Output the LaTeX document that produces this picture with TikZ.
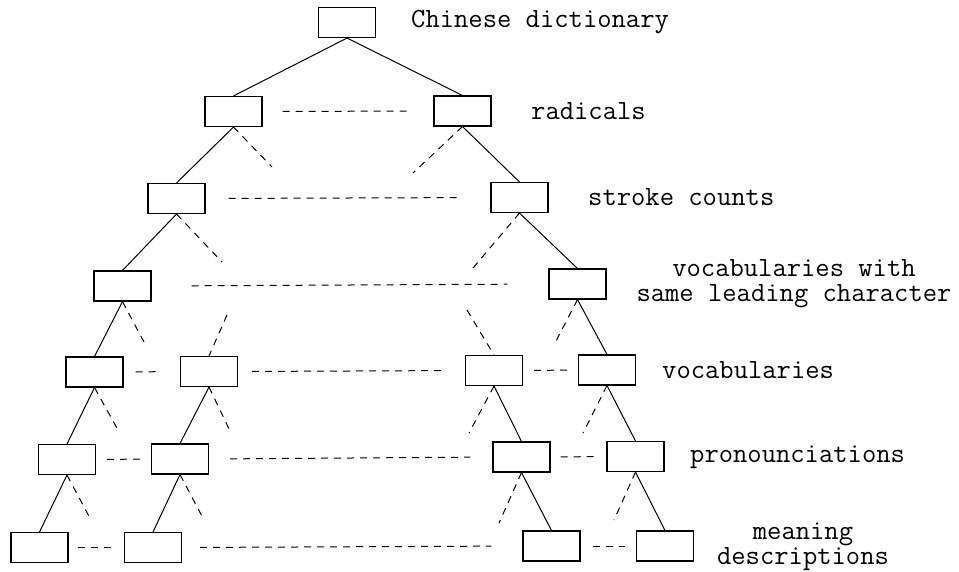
\documentclass[tikz,border=0pt]{standalone}
\begin{document}
\begin{tikzpicture}[x=1pt,y=-1pt,
  box/.style={draw,line width=1.1pt,minimum width=57pt,minimum height=30pt,inner sep=0pt},
  edge/.style={line width=1pt},
  dline/.style={line width=1pt,dash pattern=on 7pt off 6pt},
  lbl/.style={font=\ttfamily\fontsize{27.8}{25}\selectfont,inner sep=0pt}]
\useasboundingbox (0,0) rectangle (959,571);
% boxes
\node[box] (r)  at (347,22.5) {};
\node[box] (aL) at (233.5,111.5) {};
\node[box] (aR) at (462.5,111) {};
\node[box] (bL) at (176.5,198.5) {};
\node[box] (bR) at (519.5,197.5) {};
\node[box] (cL) at (122.5,286) {};
\node[box] (cR) at (577.5,284) {};
\node[box] (dA) at (94.5,372) {};
\node[box] (dB) at (209,371.5) {};
\node[box] (dC) at (494,370.5) {};
\node[box] (dD) at (607,370) {};
\node[box] (eA) at (67,459.5) {};
\node[box] (eB) at (180,459) {};
\node[box] (eC) at (521.5,457) {};
\node[box] (eD) at (635.5,456.5) {};
\node[box] (fA) at (39.5,547.5) {};
\node[box] (fB) at (153,547.5) {};
\node[box] (fC) at (551.5,546) {};
\node[box] (fD) at (665,546) {};
% labels
\node[lbl,anchor=west] (t0) at (411,22) {Chinese dictionary};
\node[lbl,anchor=west] (t1) at (531,111) {radicals};
\node[lbl,anchor=west] (t2) at (588,197) {stroke counts};
\node[lbl,align=center] (t3) at (794,284) {vocabularies with\\same leading character};
\node[lbl,anchor=west] (t4) at (662,370) {vocabularies};
\node[lbl,anchor=west] (t5) at (690,457) {pronounciations};
\node[lbl,align=center] (t6) at (803,547) {meaning\\descriptions};
% free ends of dashed stubs
\coordinate (s1a) at (272,167);
\coordinate (s1b) at (413,173);
\coordinate (s2a) at (222,262);
\coordinate (s2b) at (473,268);
\coordinate (s3a) at (144,342);
\coordinate (s3b) at (555,343);
\coordinate (u4b) at (227,315);
\coordinate (u4c) at (467,310);
\coordinate (s4a) at (118,430);
\coordinate (s4b) at (231,433);
\coordinate (s4c) at (469,433);
\coordinate (s4d) at (583,433);
\coordinate (s5a) at (91,520);
\coordinate (s5b) at (204,520);
\coordinate (s5c) at (499,523);
\coordinate (s5d) at (614,520);
% solid edges
\draw[edge] (r.south) -- (aL.north);
\draw[edge] (r.south) -- (aR.north);
\draw[edge] (aL.south) -- (bL.north);
\draw[edge] (aR.south) -- (bR.north);
\draw[edge] (bL.south) -- (cL.north);
\draw[edge] (bR.south) -- (cR.north);
\draw[edge] (cL.south) -- (dA.north);
\draw[edge] (cR.south) -- (dD.north);
\draw[edge] (dA.south) -- (eA.north);
\draw[edge] (dB.south) -- (eB.north);
\draw[edge] (dC.south) -- (eC.north);
\draw[edge] (dD.south) -- (eD.north);
\draw[edge] (eA.south) -- (fA.north);
\draw[edge] (eB.south) -- (fB.north);
\draw[edge] (eC.south) -- (fC.north);
\draw[edge] (eD.south) -- (fD.north);
% dashed stubs
\draw[dline] (aL.south) -- (s1a);
\draw[dline] (aR.south) -- (s1b);
\draw[dline] (bL.south) -- (s2a);
\draw[dline] (bR.south) -- (s2b);
\draw[dline] (cL.south) -- (s3a);
\draw[dline] (cR.south) -- (s3b);
\draw[dline] (u4b) -- (dB.north);
\draw[dline] (u4c) -- (dC.north);
\draw[dline] (dA.south) -- (s4a);
\draw[dline] (dB.south) -- (s4b);
\draw[dline] (dC.south) -- (s4c);
\draw[dline] (dD.south) -- (s4d);
\draw[dline] (eA.south) -- (s5a);
\draw[dline] (eB.south) -- (s5b);
\draw[dline] (eC.south) -- (s5c);
\draw[dline] (eD.south) -- (s5d);
% horizontal dashed links
\draw[dline,shorten <=20pt,shorten >=23pt] (aL.east) -- (aR.west);
\draw[dline,shorten <=23pt,shorten >=33pt] (bL.east) -- (bR.west);
\draw[dline,shorten <=40pt,shorten >=41pt] (cL.east) -- (cR.west);
\draw[dline,shorten <=12pt,shorten >=21pt] (dA.east) -- (dB.west);
\draw[dline,shorten <=14pt,shorten >=18pt] (dB.east) -- (dC.west);
\draw[dline,shorten <=11pt,shorten >=10pt] (dC.east) -- (dD.west);
\draw[dline,shorten <=11pt,shorten >=9pt] (eA.east) -- (eB.west);
\draw[dline,shorten <=21pt,shorten >=22pt] (eB.east) -- (eC.west);
\draw[dline,shorten <=10pt,shorten >=10pt] (eC.east) -- (eD.west);
\draw[dline,shorten <=9pt,shorten >=9pt] (fA.east) -- (fB.west);
\draw[dline,shorten <=18pt,shorten >=31pt] (fB.east) -- (fC.west);
\draw[dline,shorten <=12pt,shorten >=11pt] (fC.east) -- (fD.west);
\end{tikzpicture}
\end{document}
